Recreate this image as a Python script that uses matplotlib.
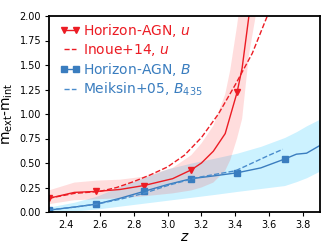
import matplotlib
matplotlib.use('Agg')
import matplotlib.pyplot as plt

# Horizon-AGN, u band
z_u = [2.30, 2.45, 2.58, 2.72, 2.86, 3.03, 3.14, 3.20, 3.27, 3.34, 3.37, 3.41, 3.44, 3.48, 3.52, 3.56]
u_hagn = [0.14, 0.20, 0.21, 0.23, 0.27, 0.34, 0.43, 0.50, 0.62, 0.80, 0.98, 1.22, 1.47, 2.00, 2.50, 3.00]
u_lo = [0.08, 0.12, 0.13, 0.14, 0.16, 0.19, 0.22, 0.25, 0.30, 0.42, 0.53, 0.75, 0.95, 1.60, 2.00, 2.40]
u_hi = [0.22, 0.30, 0.32, 0.33, 0.36, 0.45, 0.58, 0.70, 0.88, 1.20, 1.45, 1.90, 2.30, 3.00, 3.50, 4.00]
u_marks = [0, 2, 4, 6, 11]

# Inoue+14, u band
z_inoue = [2.30, 2.45, 2.60, 2.70, 2.80, 2.90, 3.00, 3.10, 3.20, 3.30, 3.40, 3.50, 3.60]
u_inoue = [0.14, 0.19, 0.21, 0.25, 0.31, 0.38, 0.46, 0.58, 0.76, 1.00, 1.30, 1.62, 2.05]

# Horizon-AGN, B band
z_b = [2.30, 2.45, 2.58, 2.72, 2.86, 3.00, 3.14, 3.28, 3.41, 3.55, 3.69, 3.76, 3.82, 3.90]
b_hagn = [0.02, 0.05, 0.08, 0.14, 0.21, 0.28, 0.34, 0.37, 0.40, 0.45, 0.54, 0.59, 0.60, 0.68]
b_lo = [0.00, 0.01, 0.03, 0.06, 0.09, 0.12, 0.15, 0.18, 0.21, 0.24, 0.27, 0.31, 0.35, 0.42]
b_hi = [0.05, 0.10, 0.16, 0.26, 0.35, 0.44, 0.50, 0.55, 0.60, 0.67, 0.76, 0.82, 0.88, 0.95]
b_marks = [0, 2, 4, 6, 8, 10]

# Meiksin+05, B435
z_m = [2.30, 2.45, 2.58, 2.72, 2.86, 3.00, 3.17, 3.30, 3.40, 3.50, 3.60, 3.68]
b_m = [0.02, 0.05, 0.08, 0.13, 0.19, 0.27, 0.35, 0.39, 0.42, 0.50, 0.58, 0.64]

red = '#ec1c24'
blue = '#3a7dbf'

fig = plt.figure(figsize=(3.28, 2.5), dpi=100)
ax = fig.add_axes([0.149, 0.152, 0.827, 0.784])

ax.fill_between(z_b, b_lo, b_hi, color='#00bfff', alpha=0.2, lw=0)
ax.fill_between(z_u, u_lo, u_hi, color='#ff3030', alpha=0.16, lw=0)

ax.plot(z_u, u_hagn, '-', color=red, lw=1.0, marker='v', ms=4,
        markevery=u_marks, label='Horizon-AGN, $u$')
ax.plot(z_inoue, u_inoue, '--', color=red, lw=1.0, label='Inoue+14, $u$')
ax.plot(z_b, b_hagn, '-', color=blue, lw=1.0, marker='s', ms=4,
        markevery=b_marks, label='Horizon-AGN, $B$')
ax.plot(z_m, b_m, '--', color='#4a8ccc', lw=1.0, label='Meiksin+05, $B_{435}$')

ax.set_xlim(2.3, 3.9)
ax.set_ylim(0, 2.0)
ax.set_xticks([2.4, 2.6, 2.8, 3.0, 3.2, 3.4, 3.6, 3.8])
ax.set_yticks([0.0, 0.25, 0.5, 0.75, 1.0, 1.25, 1.5, 1.75, 2.0])
ax.set_yticklabels(['0.00', '0.25', '0.50', '0.75', '1.00', '1.25', '1.50', '1.75', '2.00'])
ax.tick_params(labelsize=7, length=3, width=0.8, direction='out', pad=2.5)
for s in ax.spines.values():
    s.set_linewidth(1.3)

ax.set_xlabel('$z$', fontsize=10, labelpad=0)
ax.set_ylabel(r'm$_{\rm ext}$-m$_{\rm int}$', fontsize=10, labelpad=3)

leg = ax.legend(loc='upper left', bbox_to_anchor=(0.03, 0.985), frameon=False,
                fontsize=10, numpoints=2, handlelength=1.5, handletextpad=0.15,
                labelspacing=0.22, borderaxespad=0.0, borderpad=0.2)
for text, c in zip(leg.get_texts(), [red, red, blue, blue]):
    text.set_color(c)

fig.savefig('out.png', dpi=100)
